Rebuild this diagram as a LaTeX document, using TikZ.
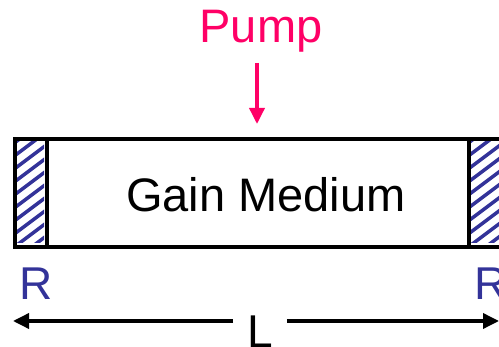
\documentclass[tikz,border=0pt]{standalone}
\usepackage{fontspec}
\setmainfont{Liberation Sans}
\usetikzlibrary{arrows.meta}
\definecolor{pumpc}{HTML}{FF0066}
\definecolor{mirc}{HTML}{333399}
\begin{document}
\begin{tikzpicture}[x=1pt,y=-1pt,
  box/.style={draw=black,line width=4pt},
  lbl/.style={inner sep=0pt,anchor=base,font=\fontsize{47}{56}\selectfont},
  hatch/.style={mirc,line width=3.5pt},
  arr/.style={line width=3.5pt,-{Triangle[length=16pt,width=15pt]}}]
\useasboundingbox (0,0) rectangle (499,347);
% mirrors hatching
\begin{scope}
\clip (14,139) rectangle (44,243);
\foreach \k in {0,...,11} {
  \draw[hatch] (13,{144+\k*13}) -- ++(40,-30);
}
\end{scope}
\begin{scope}
\clip (468,139) rectangle (500,243);
\foreach \k in {0,...,11} {
  \draw[hatch] (467,{144+\k*13}) -- ++(40,-30);
}
\end{scope}
\node[box,minimum width=32pt,minimum height=108pt,inner sep=0pt,anchor=north west] (ml) at (13,137) {};
\node[box,minimum width=34pt,minimum height=108pt,inner sep=0pt,anchor=north west] (mr) at (467,137) {};
\node[box,minimum width=422pt,minimum height=108pt,inner sep=0pt,anchor=north west] (gain) at (45,137) {};
\node[lbl] (gaintext) at (266,212) {Gain Medium};
% pump
\node[lbl,text=pumpc] (pump) at (261,43) {Pump};
\coordinate (pumptip) at (257,124);
\draw[arr,pumpc] (257,63) -- (pumptip);
% R labels
\node[lbl,text=mirc,font=\fontsize{46}{55}\selectfont] (rl) at (36,300) {R};
\node[lbl,text=mirc,font=\fontsize{46}{55}\selectfont] (rr) at (491,300) {R};
% L arrow
\node[lbl,font=\fontsize{46}{55}\selectfont,inner xsep=14pt] (len) at (260,348) {L};
\coordinate (lend) at (13,321);
\coordinate (rend) at (499,321);
\draw[arr] (len.west |- lend) -- (lend);
\draw[arr] (len.east |- rend) -- (rend);
\end{tikzpicture}
\end{document}
